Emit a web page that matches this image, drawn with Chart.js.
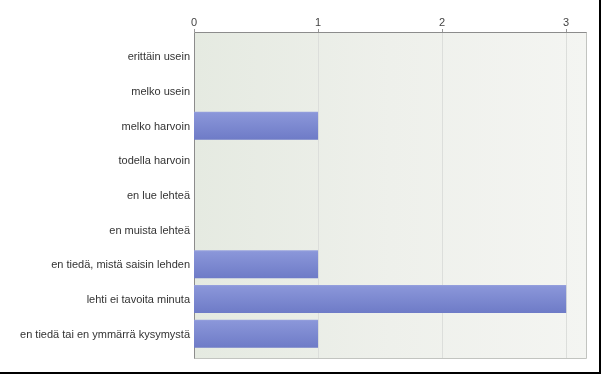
<!DOCTYPE html>
<html>
<head>
<meta charset="utf-8">
<script src="https://cdn.jsdelivr.net/npm/chart.js@4/dist/chart.umd.min.js"></script>
<style>
  html, body { margin: 0; padding: 0; background: #fff; }
  #wrap {
    box-sizing: border-box;
    width: 601px; height: 374px;
    border-right: 2px solid #000;
    border-bottom: 2px solid #000;
  }
  canvas { display: block; }
</style>
</head>
<body>
<div id="wrap"><canvas id="chart" width="599" height="372"></canvas></div>
<script>
const categories = [
  'erittäin usein',
  'melko usein',
  'melko harvoin',
  'todella harvoin',
  'en lue lehteä',
  'en muista lehteä',
  'en tiedä, mistä saisin lehden',
  'lehti ei tavoita minuta',
  'en tiedä tai en ymmärrä kysymystä',
];
const counts = [0, 0, 1, 0, 0, 0, 1, 3, 1];
const xTicks = [0, 1, 2, 3];
const xMax = 3.16;

const FONT = '"Liberation Sans", Arial, sans-serif';

// plot frame, background gradient and vertical grid lines
const framePlugin = {
  id: 'frame',
  beforeDatasetsDraw(chart) {
    const { ctx, chartArea: a, scales: { x } } = chart;
    const top = a.top - 7, bottom = a.bottom + 7;
    const left = a.left, right = a.right;

    ctx.save();
    const bg = ctx.createLinearGradient(left, 0, right, 0);
    bg.addColorStop(0, '#e5eae1');
    bg.addColorStop(0.5, '#eef0eb');
    bg.addColorStop(1, '#f4f5f2');
    ctx.fillStyle = bg;
    ctx.fillRect(left, top, right - left, bottom - top);

    ctx.lineWidth = 1;
    xTicks.forEach(v => {
      const px = Math.round(x.getPixelForValue(v)) + 0.5;
      if (v > 0) {
        ctx.strokeStyle = '#dcdedb';
        ctx.beginPath();
        ctx.moveTo(px, top);
        ctx.lineTo(px, bottom);
        ctx.stroke();
      }
      ctx.strokeStyle = '#999';
      ctx.beginPath();
      ctx.moveTo(px, top - 3);
      ctx.lineTo(px, top);
      ctx.stroke();
    });

    // light right / bottom edges
    ctx.strokeStyle = '#c2c4c0';
    ctx.beginPath();
    ctx.moveTo(right + 0.5, top);
    ctx.lineTo(right + 0.5, bottom + 0.5);
    ctx.lineTo(left, bottom + 0.5);
    ctx.stroke();

    // darker top / left edges
    ctx.strokeStyle = '#8c8c8c';
    ctx.beginPath();
    ctx.moveTo(right + 0.5, top + 0.5);
    ctx.lineTo(left + 0.5, top + 0.5);
    ctx.lineTo(left + 0.5, bottom + 0.5);
    ctx.stroke();
    ctx.restore();
  },
};

function barFill(context) {
  const chart = context.chart;
  if (!chart.chartArea) return '#7886d0';
  const y = chart.scales.y.getPixelForValue(context.dataIndex);
  const half = 14;
  const g = chart.ctx.createLinearGradient(0, y - half, 0, y + half);
  g.addColorStop(0, '#98a2de');
  g.addColorStop(0.06, '#8a96d9');
  g.addColorStop(1, '#6e7bc7');
  return g;
}

new Chart(document.getElementById('chart'), {
  type: 'bar',
  data: {
    labels: categories,
    datasets: [{
      data: counts,
      backgroundColor: barFill,
      borderWidth: 0,
      categoryPercentage: 0.9,
      barPercentage: 0.9,
    }],
  },
  options: {
    indexAxis: 'y',
    responsive: false,
    animation: false,
    layout: { padding: { top: 0, right: 13, bottom: 21, left: 0 } },
    plugins: {
      legend: { display: false },
      tooltip: { enabled: false },
    },
    scales: {
      x: {
        position: 'top',
        min: 0,
        max: xMax,
        afterBuildTicks: scale => { scale.ticks = xTicks.map(v => ({ value: v })); },
        afterFit: scale => { scale.height = 39; },
        grid: { display: false, drawTicks: true, tickLength: 6 },
        border: { display: false },
        ticks: {
          color: '#444',
          padding: 3,
          maxRotation: 0,
          font: { family: FONT, size: 11 },
        },
      },
      y: {
        afterFit: scale => { scale.width = 194; },
        grid: { display: false, drawTicks: false },
        border: { display: false },
        ticks: {
          color: '#333',
          padding: 4,
          labelOffset: 1,
          autoSkip: false,
          font: { family: FONT, size: 11 },
        },
      },
    },
  },
  plugins: [framePlugin],
});
</script>
</body>
</html>
